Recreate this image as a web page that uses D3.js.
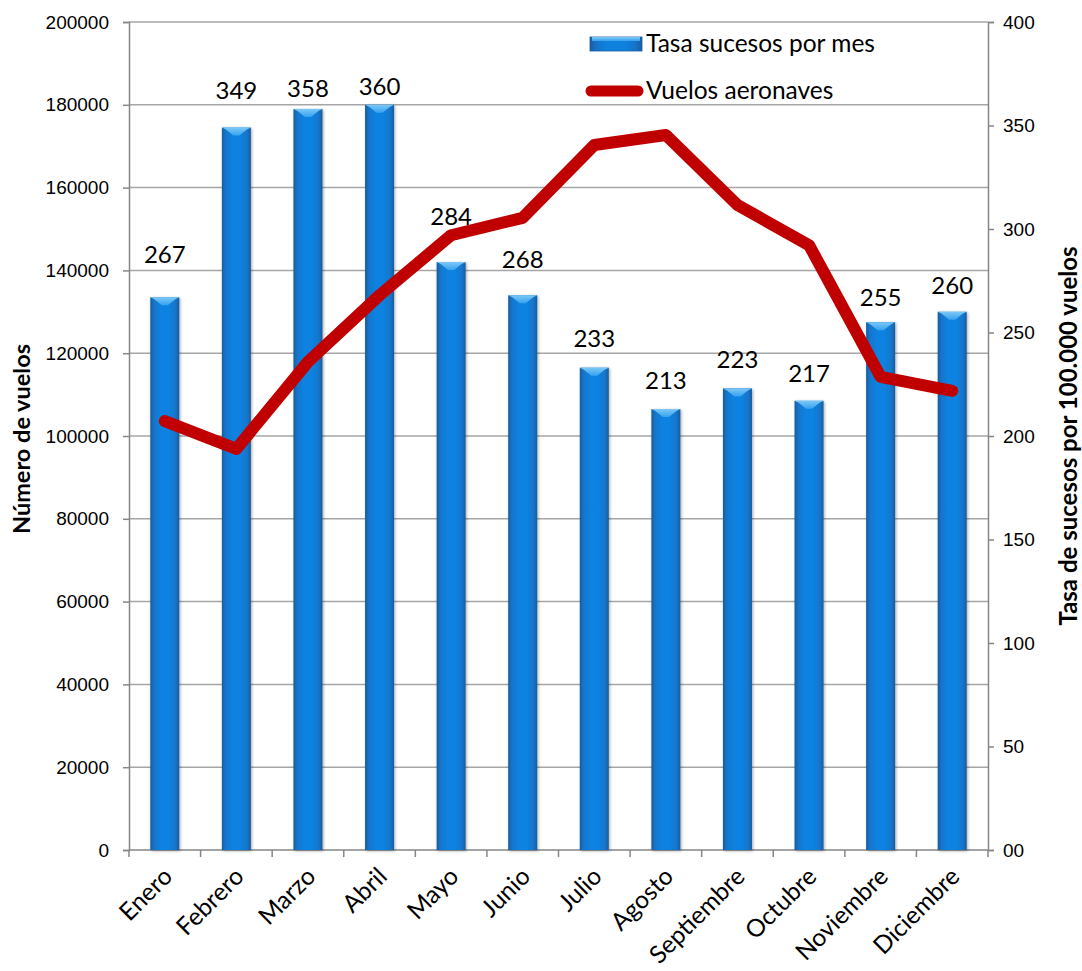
<!DOCTYPE html>
<html>
<head>
<meta charset="utf-8">
<script src="https://cdn.jsdelivr.net/npm/d3@7"></script>
<style>
  html, body { margin: 0; padding: 0; background: #ffffff; }
  svg { display: block; font-family: Lato, "Open Sans", sans-serif; }
</style>
</head>
<body>
<svg id="chart" width="1082" height="971"></svg>
<script>
// Monthly categories
const months = ["Enero", "Febrero", "Marzo", "Abril", "Mayo", "Junio",
  "Julio", "Agosto", "Septiembre", "Octubre", "Noviembre", "Diciembre"];
// Incident rate per 100,000 flights (bars, right axis)
const rateValues = [267, 349, 358, 360, 284, 268, 233, 213, 223, 217, 255, 260];
// Number of aircraft flights (line, left axis)
const flightValues = [103600, 96900, 117900, 134000, 148500, 152700,
  170300, 172700, 155800, 146100, 114300, 110900];
// Axis tick values
const leftTicks = [0, 20000, 40000, 60000, 80000, 100000, 120000, 140000, 160000, 180000, 200000];
const rightTicks = [0, 50, 100, 150, 200, 250, 300, 350, 400];
const rightTickLabels = ["00", "50", "100", "150", "200", "250", "300", "350", "400"];

// Distance (px) from each bar top up to the centre of its value label
const labelLift = [43, 37, 20, 18, 46, 36, 29, 28, 29, 27, 25, 26];

const svg = d3.select("#chart");
const margin = { left: 129, right: 94, top: 22, bottom: 121 };
const W = 1082, H = 971;
const x0 = margin.left, x1 = W - margin.right;
const y0 = H - margin.bottom, y1 = margin.top;

const x = d3.scaleBand().domain(months).range([x0, x1]).paddingInner(0).paddingOuter(0);
const yLeft = d3.scaleLinear().domain([0, 200000]).range([y0, y1]);
const yRight = d3.scaleLinear().domain([0, 400]).range([y0, y1]);

const axisColor = "#868686";
const defs = svg.append("defs");

// Bar body gradient: dark edges, bright centre
const gBody = defs.append("linearGradient").attr("id", "barBody")
  .attr("x1", "0%").attr("x2", "100%").attr("y1", "0%").attr("y2", "0%");
[["0%", "#1a5c9c"], ["12%", "#1474c8"], ["35%", "#0f82e0"], ["65%", "#0f82e0"], ["88%", "#1474c8"], ["100%", "#1a5c9c"]]
  .forEach(([o, c]) => gBody.append("stop").attr("offset", o).attr("stop-color", c));
// Bar top bevel gradient
const gTop = defs.append("linearGradient").attr("id", "barTop")
  .attr("x1", "0%").attr("x2", "0%").attr("y1", "0%").attr("y2", "100%");
[["0%", "#7cc8f7"], ["100%", "#37a2ee"]]
  .forEach(([o, c]) => gTop.append("stop").attr("offset", o).attr("stop-color", c));
const shadow = defs.append("filter").attr("id", "barShadow")
  .attr("x", "-30%").attr("y", "-10%").attr("width", "160%").attr("height", "120%");
shadow.append("feGaussianBlur").attr("in", "SourceAlpha").attr("stdDeviation", 1.5).attr("result", "b");
shadow.append("feOffset").attr("in", "b").attr("dx", 1).attr("dy", 1).attr("result", "o");
shadow.append("feComponentTransfer").attr("in", "o").attr("result", "s")
  .append("feFuncA").attr("type", "linear").attr("slope", 0.35);
const merge = shadow.append("feMerge");
merge.append("feMergeNode").attr("in", "s");
merge.append("feMergeNode").attr("in", "SourceGraphic");

// Horizontal gridlines
svg.append("g").selectAll("line").data(leftTicks.slice(1)).join("line")
  .attr("x1", x0).attr("x2", x1)
  .attr("y1", d => yLeft(d)).attr("y2", d => yLeft(d))
  .attr("stroke", "#a6a6a6").attr("stroke-width", 1.5);

// Left axis
const leftAxis = svg.append("g").attr("transform", `translate(${x0},0)`)
  .call(d3.axisLeft(yLeft).tickValues(leftTicks).tickFormat(d3.format("d")).tickSize(6).tickPadding(14));
// Right axis
const rightAxis = svg.append("g").attr("transform", `translate(${x1},0)`)
  .call(d3.axisRight(yRight).tickValues(rightTicks).tickFormat((d, i) => rightTickLabels[i]).tickSize(6).tickPadding(9));
[leftAxis, rightAxis].forEach(a => {
  a.select(".domain").attr("stroke", axisColor).attr("stroke-width", 1.5);
  a.selectAll(".tick line").attr("stroke", axisColor).attr("stroke-width", 1.5);
  a.selectAll(".tick text").attr("fill", "#000").attr("font-size", 19);
});

// Bottom axis with ticks between categories
const bottom = svg.append("g");
bottom.append("line").attr("x1", x0).attr("x2", x1).attr("y1", y0).attr("y2", y0)
  .attr("stroke", axisColor).attr("stroke-width", 1.5);
const boundaries = months.map(m => x(m)).concat([x1]);
bottom.selectAll("line.tk").data(boundaries).join("line").attr("class", "tk")
  .attr("x1", d => d).attr("x2", d => d).attr("y1", y0).attr("y2", y0 + 7)
  .attr("stroke", axisColor).attr("stroke-width", 1.5);
bottom.selectAll("text").data(months).join("text")
  .attr("transform", d => `translate(${x(d) + x.bandwidth() / 2 + 9},${y0 + 28}) rotate(-45)`)
  .attr("text-anchor", "end").attr("font-size", 24.5).attr("fill", "#000")
  .text(d => d);

// Bars (rate, right axis)
const barW = 29;
const bars = svg.append("g").selectAll("g").data(rateValues).join("g")
  .attr("filter", "url(#barShadow)");
bars.append("rect")
  .attr("x", (d, i) => x(months[i]) + x.bandwidth() / 2 - barW / 2)
  .attr("y", d => yRight(d))
  .attr("width", barW)
  .attr("height", d => y0 - yRight(d))
  .attr("fill", "url(#barBody)");
// Bevelled top cap
const capH = 8;
bars.append("path")
  .attr("d", (d, i) => {
    const l = x(months[i]) + x.bandwidth() / 2 - barW / 2, r = l + barW, t = yRight(d);
    return `M${l},${t}L${r},${t}L${r - 4},${t + 2}L${l + barW / 2 + 3},${t + capH}L${l + barW / 2 - 3},${t + capH}L${l + 4},${t + 2}Z`;
  })
  .attr("fill", "url(#barTop)");

// Value labels above bars
svg.append("g").selectAll("text").data(rateValues).join("text")
  .attr("x", (d, i) => x(months[i]) + x.bandwidth() / 2)
  .attr("y", (d, i) => yRight(d) - labelLift[i])
  .attr("dy", "0.35em")
  .attr("text-anchor", "middle").attr("font-size", 24).attr("fill", "#000")
  .text(d => d);

// Flights line (left axis)
const line = d3.line()
  .x((d, i) => x(months[i]) + x.bandwidth() / 2)
  .y(d => yLeft(d));
svg.append("path").datum(flightValues)
  .attr("d", line)
  .attr("fill", "none").attr("stroke", "#c00000").attr("stroke-width", 12)
  .attr("stroke-linecap", "round").attr("stroke-linejoin", "round");

// Legend
const legend = svg.append("g");
legend.append("rect").attr("x", 590).attr("y", 37).attr("width", 52).attr("height", 14)
  .attr("fill", "url(#barBody)").attr("stroke", "#1b5d9e").attr("stroke-width", 0.8);
legend.append("rect").attr("x", 592).attr("y", 37).attr("width", 48).attr("height", 4)
  .attr("fill", "url(#barTop)");
legend.append("text").attr("x", 646).attr("y", 52).attr("font-size", 24.5).text("Tasa sucesos por mes");
legend.append("line").attr("x1", 591).attr("x2", 638).attr("y1", 91).attr("y2", 91)
  .attr("stroke", "#c00000").attr("stroke-width", 11).attr("stroke-linecap", "round");
legend.append("text").attr("x", 646).attr("y", 99).attr("font-size", 24.5).text("Vuelos aeronaves");

// Axis titles
svg.append("text")
  .attr("transform", `translate(30,${(y0 + y1) / 2 + 3}) rotate(-90)`)
  .attr("text-anchor", "middle").attr("font-size", 23.5).attr("font-weight", "bold")
  .text("Número de vuelos");
svg.append("text")
  .attr("transform", `translate(1077,${(y0 + y1) / 2}) rotate(-90)`)
  .attr("text-anchor", "middle").attr("font-size", 24).attr("font-weight", "bold")
  .text("Tasa de sucesos por 100.000 vuelos");
</script>
</body>
</html>
